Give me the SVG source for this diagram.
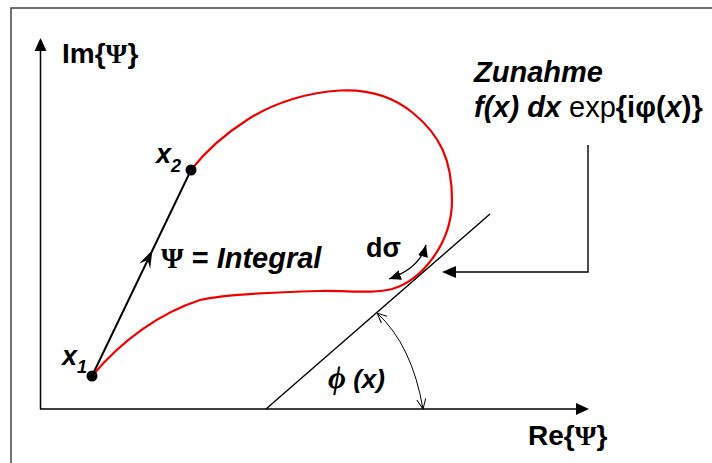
<svg xmlns="http://www.w3.org/2000/svg" width="712" height="463" viewBox="0 0 712 463">
<defs>
<style>
.t{font-family:"Liberation Sans",Arial,sans-serif;font-weight:bold;fill:#000}
.bi{font-style:italic}
.sr{font-family:"Liberation Serif","Times New Roman",serif;font-weight:bold}
.ln{fill:none;stroke:#000}
</style>
<marker id="tri" viewBox="0 0 12 10" refX="12" refY="5" markerWidth="12" markerHeight="10" markerUnits="userSpaceOnUse" orient="auto-start-reverse">
<path d="M0,0 L12,5 L0,10 z" fill="#000"/>
</marker>
<marker id="vee" viewBox="0 0 10 10" refX="10" refY="5" markerWidth="10" markerHeight="10" markerUnits="userSpaceOnUse" orient="auto-start-reverse">
<path d="M0,0.5 L10,5 L0,9.5" fill="none" stroke="#000" stroke-width="1"/>
</marker>
</defs>
<rect x="0" y="0" width="712" height="463" fill="#fff"/>
<path d="M11,463 V8 H712" fill="none" stroke="#444" stroke-width="1.5"/>

<g id="connectors">
<!-- axes -->
<path class="ln" d="M40.5,409 V48 M40,409 H578" stroke-width="1.5"/>
<polygon points="40.5,38 34.5,51 46.5,51" fill="#000"/>
<polygon points="589,409 576,403 576,415" fill="#000"/>
<!-- integral vector -->
<line x1="92" y1="376" x2="191" y2="170" stroke="#000" stroke-width="2"/>
<polygon points="152.5,250 150.1,268.8 147.7,259.9 139.3,263.6" fill="#000"/>
<!-- red curve -->
<path d="M92,376 C122,340 160,313 200,300 C225,294 280,292 320,291 C350,290.5 372,294 392,289 C420,281 452,245 452,200 C452,160 440,135 413,113 C395,98 370,89 340,90.5 C310,92 275,102 247,120 C225,134 205,152 191,170" fill="none" stroke="#e00" stroke-width="2.2"/>
<!-- tangent line -->
<line x1="266" y1="409" x2="490" y2="214" stroke="#000" stroke-width="1.4"/>
<!-- d sigma double arrow -->
<path class="ln" d="M389,279 Q420,268 426,245" stroke-width="1.3" marker-start="url(#tri)" marker-end="url(#tri)"/>
<!-- angle arc -->
<path class="ln" d="M377,313 Q412,345 423,409" stroke-width="1" marker-start="url(#vee)" marker-end="url(#vee)"/>
<!-- annotation arrow -->
<path class="ln" d="M588,145 V272 H454" stroke-width="1.4"/>
<polygon points="442,272 456,266 456,278" fill="#000"/>
</g>

<g id="x1">
<circle cx="92" cy="376" r="5.5" fill="#000"/>
<text class="t bi" x="62" y="365" font-size="27">x<tspan font-size="18" dy="8">1</tspan></text>
</g>
<g id="x2">
<circle cx="191" cy="170" r="5.5" fill="#000"/>
<text class="t bi" x="156" y="163" font-size="27">x<tspan font-size="18" dy="9">2</tspan></text>
</g>
<g id="im-label">
<text class="t" x="62" y="63" font-size="28">Im{<tspan class="sr">Ψ</tspan>}</text>
</g>
<g id="re-label">
<text class="t" x="528" y="445" font-size="28">Re{<tspan class="sr">Ψ</tspan>}</text>
</g>
<g id="integral-label">
<text class="t" x="161" y="268" font-size="29"><tspan class="sr">Ψ</tspan> = <tspan class="bi">Integral</tspan></text>
</g>
<g id="zunahme-label">
<text class="t bi" x="474" y="82" font-size="29">Zunahme</text>
<text class="t" x="474" y="117" font-size="29"><tspan class="bi">f(x) dx</tspan> <tspan font-weight="normal">exp</tspan>{iφ(<tspan class="bi">x</tspan>)}</text>
</g>
<g id="dsigma-label">
<text class="t" x="366" y="257" font-size="27">dσ</text>
</g>
<g id="phi-label">
<text class="t bi" x="328" y="388" font-size="26"><tspan class="sr" font-size="31">ϕ</tspan> (x)</text>
</g>
</svg>
